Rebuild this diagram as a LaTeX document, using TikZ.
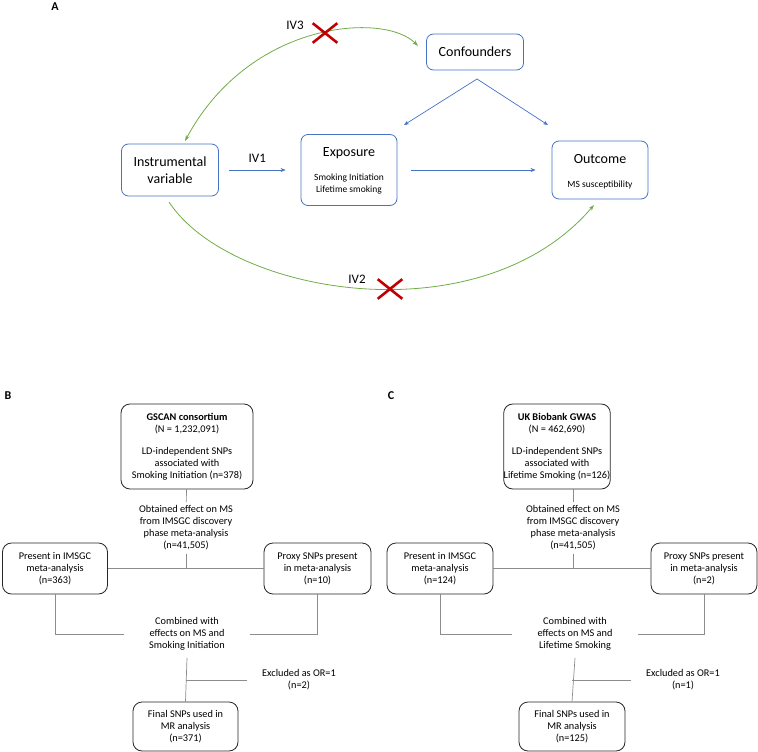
\documentclass[tikz,border=0pt]{standalone}
\usepackage{fontspec}
\setmainfont{Carlito}
\usetikzlibrary{arrows.meta,shapes.misc}
\definecolor{boxblue}{HTML}{4472C4}
\definecolor{arcgreen}{HTML}{70AD47}
\definecolor{xred}{HTML}{C00000}
\newcommand{\fsz}[2]{\fontsize{#1}{#2}\selectfont}

\begin{document}
\begin{tikzpicture}[x=1pt,y=-1pt,
	varbox/.style = { draw=boxblue, line width=0.8pt, rounded corners=7pt, align=center, inner sep=0pt, font=\fsz{14}{17} },
	bigtext/.style = { font=\fsz{14}{17} },
	smalltext/.style = { align=center, font=\fsz{9.5}{12} },
	flowbox/.style = { draw=black!85, line width=0.8pt, rounded corners=9pt, align=center, inner sep=0pt, font=\fsz{10.3}{12} },
	note/.style = { align=center, font=\fsz{10.3}{12} },
	link/.style = { draw=black!45, line width=0.7pt },
	bluearrow/.style = { draw=boxblue, line width=0.7pt, -{Stealth[length=5pt,width=4pt]} },
	greenarc/.style = { draw=arcgreen, line width=0.8pt },
	nope/.style = { cross out, draw=xred, line width=2.6pt, minimum width=22pt, minimum height=17pt, inner sep=0pt },
	panel/.style = { font=\fsz{12}{14}\bfseries }]

  \useasboundingbox (0,0) rectangle (758,752);

  % A
  \node[panel] (pA) at (55,7) {A};
  \node[varbox, minimum width=97pt, minimum height=52pt] (iv) at (170,170) {Instrumental\\variable};
  \node[varbox, minimum width=96pt, minimum height=71pt] (expo) at (349,170) {};
  \node[bigtext] (expotitle) at (349,153) {Exposure};
  \node[smalltext] (expotext) at (349,184) {Smoking Initiation\\Lifetime smoking};
  \node[varbox, minimum width=97pt, minimum height=36pt] (conf) at (475,52) {Confounders};
  \node[varbox, minimum width=96pt, minimum height=58pt] (outc) at (600,170) {};
  \node[bigtext] (outctitle) at (600,159) {Outcome};
  \node[smalltext] (outctext) at (600,185) {MS susceptibility};

  \coordinate (apex) at (477,79);
  \coordinate (confl) at (404,125);
  \coordinate (confr) at (548,125);
  \draw[bluearrow] ([xshift=10pt]iv.east) -- ([xshift=-15pt]expo.west)
    node[midway, above=4pt, font=\fsz{13}{15}] (ivone) {IV1};
  \draw[bluearrow] ([xshift=14pt]expo.east) -- ([xshift=-16pt]outc.west);
  \draw[bluearrow] (apex) -- (confl);
  \draw[bluearrow] (apex) -- (confr);

  \coordinate (ivtop) at (185,141);
  \coordinate (confend) at (418,46);
  \coordinate (ivbot) at (169,202);
  \coordinate (outend) at (594,205);
  \draw[greenarc, {Stealth[length=6pt,width=4pt]}-{Stealth[length=6pt,width=4pt]}]
    (confend) .. controls (385,12) and (250,20) .. (ivtop);
  \draw[greenarc, -{Stealth[length=6pt,width=4pt]}]
    (ivbot) .. controls (230,295) and (480,338) .. (outend);
  \node[font=\fsz{13}{15}] (ivthree) at (295,25) {IV3};
  \node[nope] (xthree) at (325,33) {};
  \node[font=\fsz{13}{15}] (ivtwo) at (357,279) {IV2};
  \node[nope] (xtwo) at (390,289) {};

  % B
  \node[panel] (pB) at (8,396) {B};
  \node[flowbox, minimum width=132pt, minimum height=85pt] (gscan) at (187,446.5)
    {\textbf{GSCAN consortium}\\(N = 1,232,091)\\[10pt]LD-independent SNPs\\associated with\\Smoking Initiation (n=378)};
  \node[note] (gobt) at (186,528) {Obtained effect on MS\\from IMSGC discovery\\phase meta-analysis\\(n=41,505)};
  \node[flowbox, minimum width=105pt, minimum height=51pt] (glft) at (55,568.5) {Present in IMSGC\\meta-analysis\\(n=363)};
  \node[flowbox, minimum width=107pt, minimum height=51pt] (grgt) at (317.5,568.5) {Proxy SNPs present\\in meta-analysis\\(n=10)};
  \node[note] (gcomb) at (187,634) {Combined with\\effects on MS and\\Smoking Initiation};
  \node[note] (gexc) at (299,680) {Excluded as OR=1\\(n=2)};
  \node[flowbox, minimum width=105pt, minimum height=49pt] (gfin) at (185.5,726.5) {Final SNPs used in\\MR analysis\\(n=371)};

  \draw[link] (gscan) -- (gobt);
  \draw[link] (gobt) -- (gobt |- glft.east);
  \draw[link] (glft) -- (grgt);
  \draw[link] (glft.south) |- ([xshift=-22pt]gcomb.west);
  \draw[link] (grgt.south) |- ([xshift=22pt]gcomb.east);
  \draw[link] ([yshift=-4pt]gcomb.south) -- (gfin.north);
  \draw[link] (gfin.north |- gexc.west) -- ([xshift=-12pt]gexc.west);

  % C
  \node[panel] (pC) at (391,396) {C};
  \node[flowbox, minimum width=100pt, minimum height=85pt] (ukb) at (557,446.5)
    {\textbf{UK Biobank GWAS}\\(N = 462,690)\\[10pt]LD-independent SNPs\\associated with\\Lifetime Smoking (n=126)};
  \node[note] (uobt) at (573,528) {Obtained effect on MS\\from IMSGC discovery\\phase meta-analysis\\(n=41,505)};
  \node[flowbox, minimum width=106pt, minimum height=51pt] (ulft) at (440,568.5) {Present in IMSGC\\meta-analysis\\(n=124)};
  \node[flowbox, minimum width=106pt, minimum height=51pt] (urgt) at (704,568.5) {Proxy SNPs present\\in meta-analysis\\(n=2)};
  \node[note] (ucomb) at (575,634) {Combined with\\effects on MS and\\Lifetime Smoking};
  \node[note] (uexc) at (683,680) {Excluded as OR=1\\(n=1)};
  \node[flowbox, minimum width=106pt, minimum height=49pt] (ufin) at (572,726.5) {Final SNPs used in\\MR analysis\\(n=125)};

  \draw[link] (ukb.south -| uobt) -- (uobt);
  \draw[link] (uobt) -- (uobt |- ulft.east);
  \draw[link] (ulft) -- (urgt);
  \draw[link] (ulft.south) |- ([xshift=-22pt]ucomb.west);
  \draw[link] (urgt.south) |- ([xshift=22pt]ucomb.east);
  \draw[link] ([yshift=-4pt]ucomb.south) -- (ufin.north);
  \draw[link] (ufin.north |- uexc.west) -- ([xshift=-12pt]uexc.west);
\end{tikzpicture}
\end{document}
